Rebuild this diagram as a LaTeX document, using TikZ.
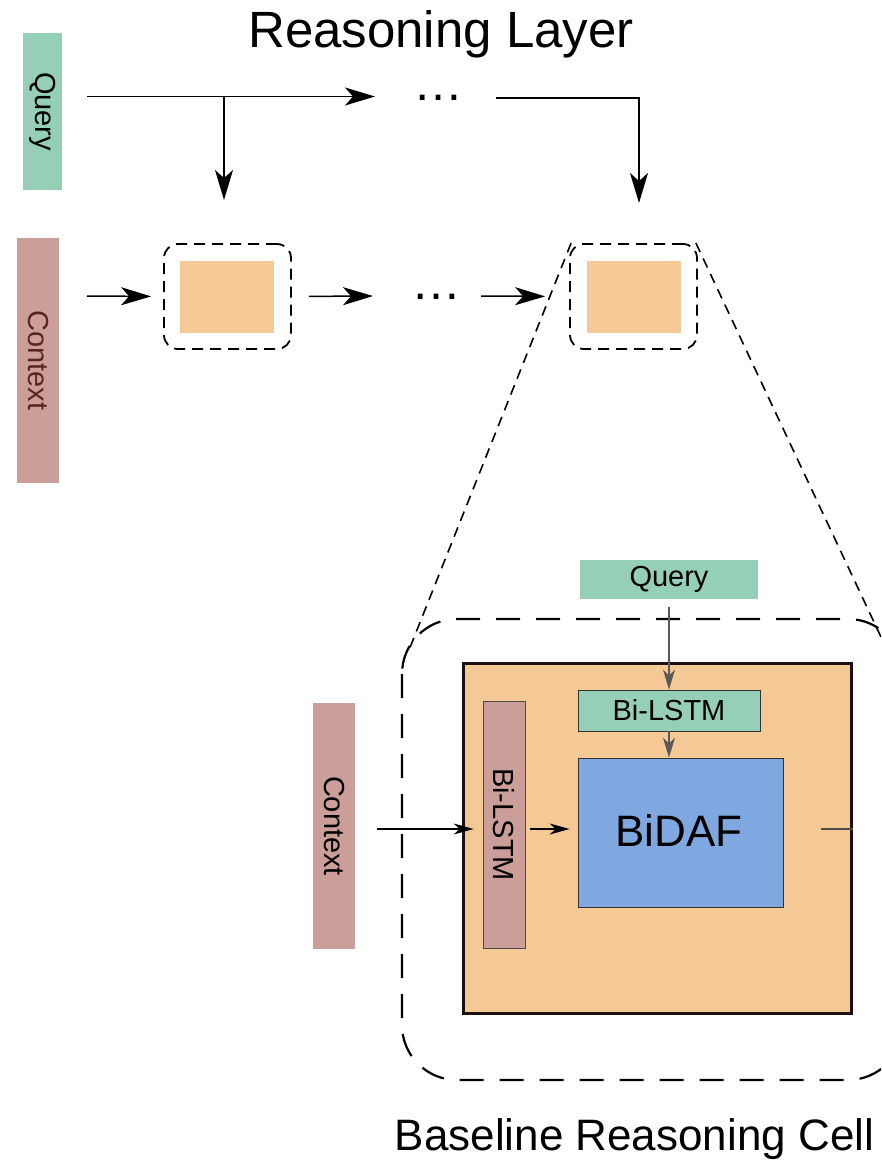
\documentclass[tikz,border=0pt]{standalone}
\usepackage{fontspec}
\setmainfont{Liberation Sans}
\usetikzlibrary{arrows.meta,calc}
\definecolor{qgreen}{HTML}{96CFB8}
\definecolor{cpink}{HTML}{CB9E9A}
\definecolor{cellorange}{HTML}{F5C995}
\definecolor{bidafblue}{HTML}{80A8E0}
\definecolor{ctxtext}{HTML}{5A2424}
\definecolor{frame}{HTML}{1E1010}
\begin{document}
\begin{tikzpicture}[x=1pt,y=-1pt,
  fs/.style={font=\fontsize{#1}{#1}\selectfont},
  tag/.style={inner sep=0pt, fs=29},
  bigarrow/.style={line width=1.5pt, -{Stealth[length=30pt,width=18pt,inset=8pt]}},
  midarrow/.style={line width=1.2pt, -{Stealth[length=20pt,width=11pt,inset=6pt]}},
  thinarrow/.style={line width=1.1pt, draw=black!65, -{Stealth[length=20pt,width=12pt,inset=6pt]}},
  cellbox/.style={draw, line width=1.8pt, dash pattern=on 11pt off 7pt, rounded corners=14pt,
    minimum width=127pt, minimum height=105pt, inner sep=0pt},
  cellcore/.style={fill=cellorange, minimum width=94pt, minimum height=72pt, inner sep=0pt},
  zoomline/.style={line width=1.6pt, dash pattern=on 10pt off 7pt},
  ellipsis/.style={font=\fontsize{50}{50}\selectfont, anchor=base, inner sep=0pt},
]
\clip (0,0) rectangle (881,1161);

% ---------- reasoning layer ----------
\node[fs=51, anchor=base] (title) at (441,48) {Reasoning Layer};

\node[tag, rotate=-90, fill=qgreen, minimum width=157pt, minimum height=39pt] (qtop) at (42.5,111.5) {Query};
\node[tag, rotate=-90, fill=cpink, text=ctxtext, minimum width=245pt, minimum height=42pt] (ctop) at (38,360.5) {Context};

\node[cellbox] (cell1) at (227.5,296.5) {};
\node[cellcore] (core1) at (227,297) {};
\node[cellbox] (cell2) at (633.5,296.5) {};
\node[cellcore] (core2) at (634,297) {};

\node[ellipsis] (dotsA) at (438,101) {…};
\node[ellipsis] (dotsB) at (436.5,299) {…};

% query stream
\coordinate (q0) at (87,96.5);
\coordinate (q1) at (375,96.5);
\coordinate (qb) at (224,96.5);
\coordinate (qb1) at (224,200);
\coordinate (q2) at (496,98);
\coordinate (q3) at (639,98);
\coordinate (q4) at (639,203);
\draw[bigarrow] (q0) -- (q1);
\draw[bigarrow] (qb) -- (qb1);
\draw[bigarrow] (q2) -- (q3) -- (q4);

% context stream
\coordinate (c0) at (87,296);
\coordinate (c1) at (373,296);
\coordinate (c2) at (481,296);
\draw[bigarrow, shorten >=12pt] (c0) -- (cell1.west);
\draw[bigarrow, shorten <=17pt] (cell1.east) -- (c1);
\draw[bigarrow, shorten >=24pt] (c2) -- (cell2.west);

% zoom guides
\coordinate (zl) at (409,650);
\coordinate (zr) at (881,637);
\draw[zoomline] ([xshift=2pt]cell2.north west) -- (zl);
\draw[zoomline] ([xshift=-2pt]cell2.north east) -- (zr);

% ---------- baseline reasoning cell ----------
\draw[line width=2.2pt, dash pattern=on 24pt off 16pt, rounded corners=55pt]
  (402,619) rectangle (903,1080);
\node[fill=cellorange, draw=frame, line width=3pt, minimum width=388pt, minimum height=350pt, inner sep=0pt]
  (inner) at (657,838) {};

\node[tag, fill=qgreen, minimum width=178pt, minimum height=39pt] (query) at (669,579.5) {Query};
\node[tag, fill=qgreen, draw=black!80, line width=0.8pt, minimum width=182pt, minimum height=41pt] (bilh) at (669,710.5) {Bi-LSTM};
\node[fill=bidafblue, draw=black!80, line width=0.8pt, minimum width=205pt, minimum height=149pt, inner sep=0pt] (bidaf) at (680.5,832.5) {};
\node[fs=44, inner sep=0pt] (bidaftext) at (679,831) {BiDAF};
\node[tag, rotate=-90, fill=cpink, draw=black!70, line width=0.8pt, minimum width=247pt, minimum height=42pt] (bilv) at (504,824.5) {Bi-LSTM};
\node[tag, rotate=-90, fill=cpink, minimum width=246pt, minimum height=42pt] (ctx) at (334,826) {Context};

\coordinate (ca) at (377,829);
\coordinate (stub) at (821,829);
\draw[thinarrow, shorten <=8pt] (query.south) -- (bilh.north);
\draw[thinarrow] (bilh.south) -- (bilh.south |- bidaf.north);
\draw[midarrow, shorten >=9pt] (ca) -- (ca -| bilv.south);
\draw[midarrow, line width=2pt, shorten <=5pt, shorten >=8pt] (ca -| bilv.north) -- (ca -| bidaf.west);
\draw[line width=1.2pt, draw=black!70] (stub) -- (stub -| inner.east);

\node[fs=44, anchor=base] (celltitle) at (634.5,1150) {Baseline Reasoning Cell};
\end{tikzpicture}
\end{document}
